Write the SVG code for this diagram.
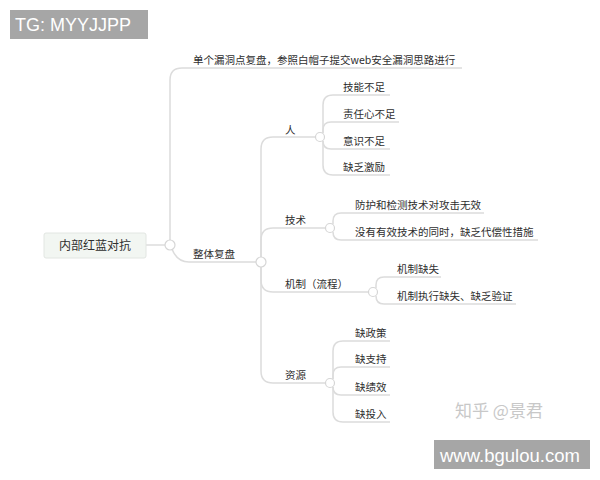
<svg xmlns="http://www.w3.org/2000/svg" width="600" height="480" viewBox="0 0 600 480">
<style>
.t{font-family:"Noto Sans CJK SC","Noto Sans",sans-serif;font-size:10.5px;fill:#2e2e2e}
.c{fill:none;stroke:#dcdcdc;stroke-width:1.5}
.k{fill:#fff;stroke:#d6d6d6;stroke-width:1.2}
.lbl{font-family:"Liberation Sans",Arial,sans-serif;fill:#fff}
</style>
<rect width="600" height="480" fill="#fff"/>
<g id="connectors">
<path class="c" d="M146,245 H165"/>
<path class="c" d="M170,240 V80 Q170,68 182,68 H462"/>
<path class="c" d="M172,249 Q177,262 189,262 H256"/>
<path class="c" d="M261,257 V149 Q261,137 273,137 H315"/>
<path class="c" d="M261,257 V240 Q261,228 273,228 H325"/>
<path class="c" d="M261,267 V280 Q261,292 273,292 H368"/>
<path class="c" d="M261,267 V371 Q261,383 273,383 H325"/>
<path class="c" d="M323,133 V105 Q323,95 333,95 H390"/>
<path class="c" d="M323,133 V130 Q323,122 331,122 H399"/>
<path class="c" d="M323,141 V141 Q323,149 331,149 H390"/>
<path class="c" d="M323,141 V165 Q323,175 333,175 H390"/>
<path class="c" d="M333,224 V221 Q333,213 341,213 H484"/>
<path class="c" d="M333,232 V232 Q333,240 341,240 H538"/>
<path class="c" d="M376,288 V285 Q376,277 384,277 H441"/>
<path class="c" d="M376,296 V296 Q376,304 384,304 H516"/>
<path class="c" d="M333,379 V351 Q333,341 343,341 H390"/>
<path class="c" d="M333,379 V375 Q333,367 341,367 H390"/>
<path class="c" d="M333,387 V387 Q333,395 341,395 H390"/>
<path class="c" d="M333,387 V412 Q333,422 343,422 H390"/>
<circle class="k" cx="170" cy="245" r="5"/>
<circle class="k" cx="261" cy="262" r="5"/>
<circle class="k" cx="320" cy="137" r="4.5"/>
<circle class="k" cx="330" cy="228" r="4.5"/>
<circle class="k" cx="373" cy="292" r="4.5"/>
<circle class="k" cx="330" cy="383" r="4.5"/>
</g>
<g id="root">
<rect x="44" y="233" width="102" height="25" rx="2" fill="#f2f6f2" stroke="#e2e6e2" stroke-width="1"/>
<text class="t" x="95" y="250" text-anchor="middle" style="font-size:12px">内部红蓝对抗</text>
</g>
<g id="n-single"><text class="t" x="193" y="64">单个漏洞点复盘，参照白帽子提交web安全漏洞思路进行</text></g>
<g id="n-whole"><text class="t" x="193" y="258">整体复盘</text></g>
<g id="n-people"><text class="t" x="285" y="134">人</text></g>
<g id="n-p1"><text class="t" x="343" y="91">技能不足</text></g>
<g id="n-p2"><text class="t" x="343" y="118">责任心不足</text></g>
<g id="n-p3"><text class="t" x="343" y="145">意识不足</text></g>
<g id="n-p4"><text class="t" x="343" y="171">缺乏激励</text></g>
<g id="n-tech"><text class="t" x="285" y="224">技术</text></g>
<g id="n-t1"><text class="t" x="355" y="209">防护和检测技术对攻击无效</text></g>
<g id="n-t2"><text class="t" x="355" y="236">没有有效技术的同时，缺乏代偿性措施</text></g>
<g id="n-mech"><text class="t" x="285" y="288">机制（流程）</text></g>
<g id="n-m1"><text class="t" x="397" y="273">机制缺失</text></g>
<g id="n-m2"><text class="t" x="397" y="300">机制执行缺失、缺乏验证</text></g>
<g id="n-res"><text class="t" x="285" y="379">资源</text></g>
<g id="n-r1"><text class="t" x="355" y="337">缺政策</text></g>
<g id="n-r2"><text class="t" x="355" y="363">缺支持</text></g>
<g id="n-r3"><text class="t" x="355" y="391">缺绩效</text></g>
<g id="n-r4"><text class="t" x="355" y="418">缺投入</text></g>
<g id="watermark"><text x="455" y="417" style="font-family:'Noto Sans CJK SC',sans-serif;font-size:17px;fill:#c8c8c8">知乎 @景君</text></g>
<g id="tag-top">
<rect x="10" y="10" width="138" height="29" fill="#a6a6a6"/>
<text class="lbl" x="15" y="31" style="font-size:18px">TG: MYYJJPP</text>
</g>
<g id="tag-bottom">
<rect x="434" y="440" width="156" height="29" fill="#a6a6a6"/>
<text class="lbl" x="440" y="462" style="font-size:18.5px">www.bgulou.com</text>
</g>
</svg>
